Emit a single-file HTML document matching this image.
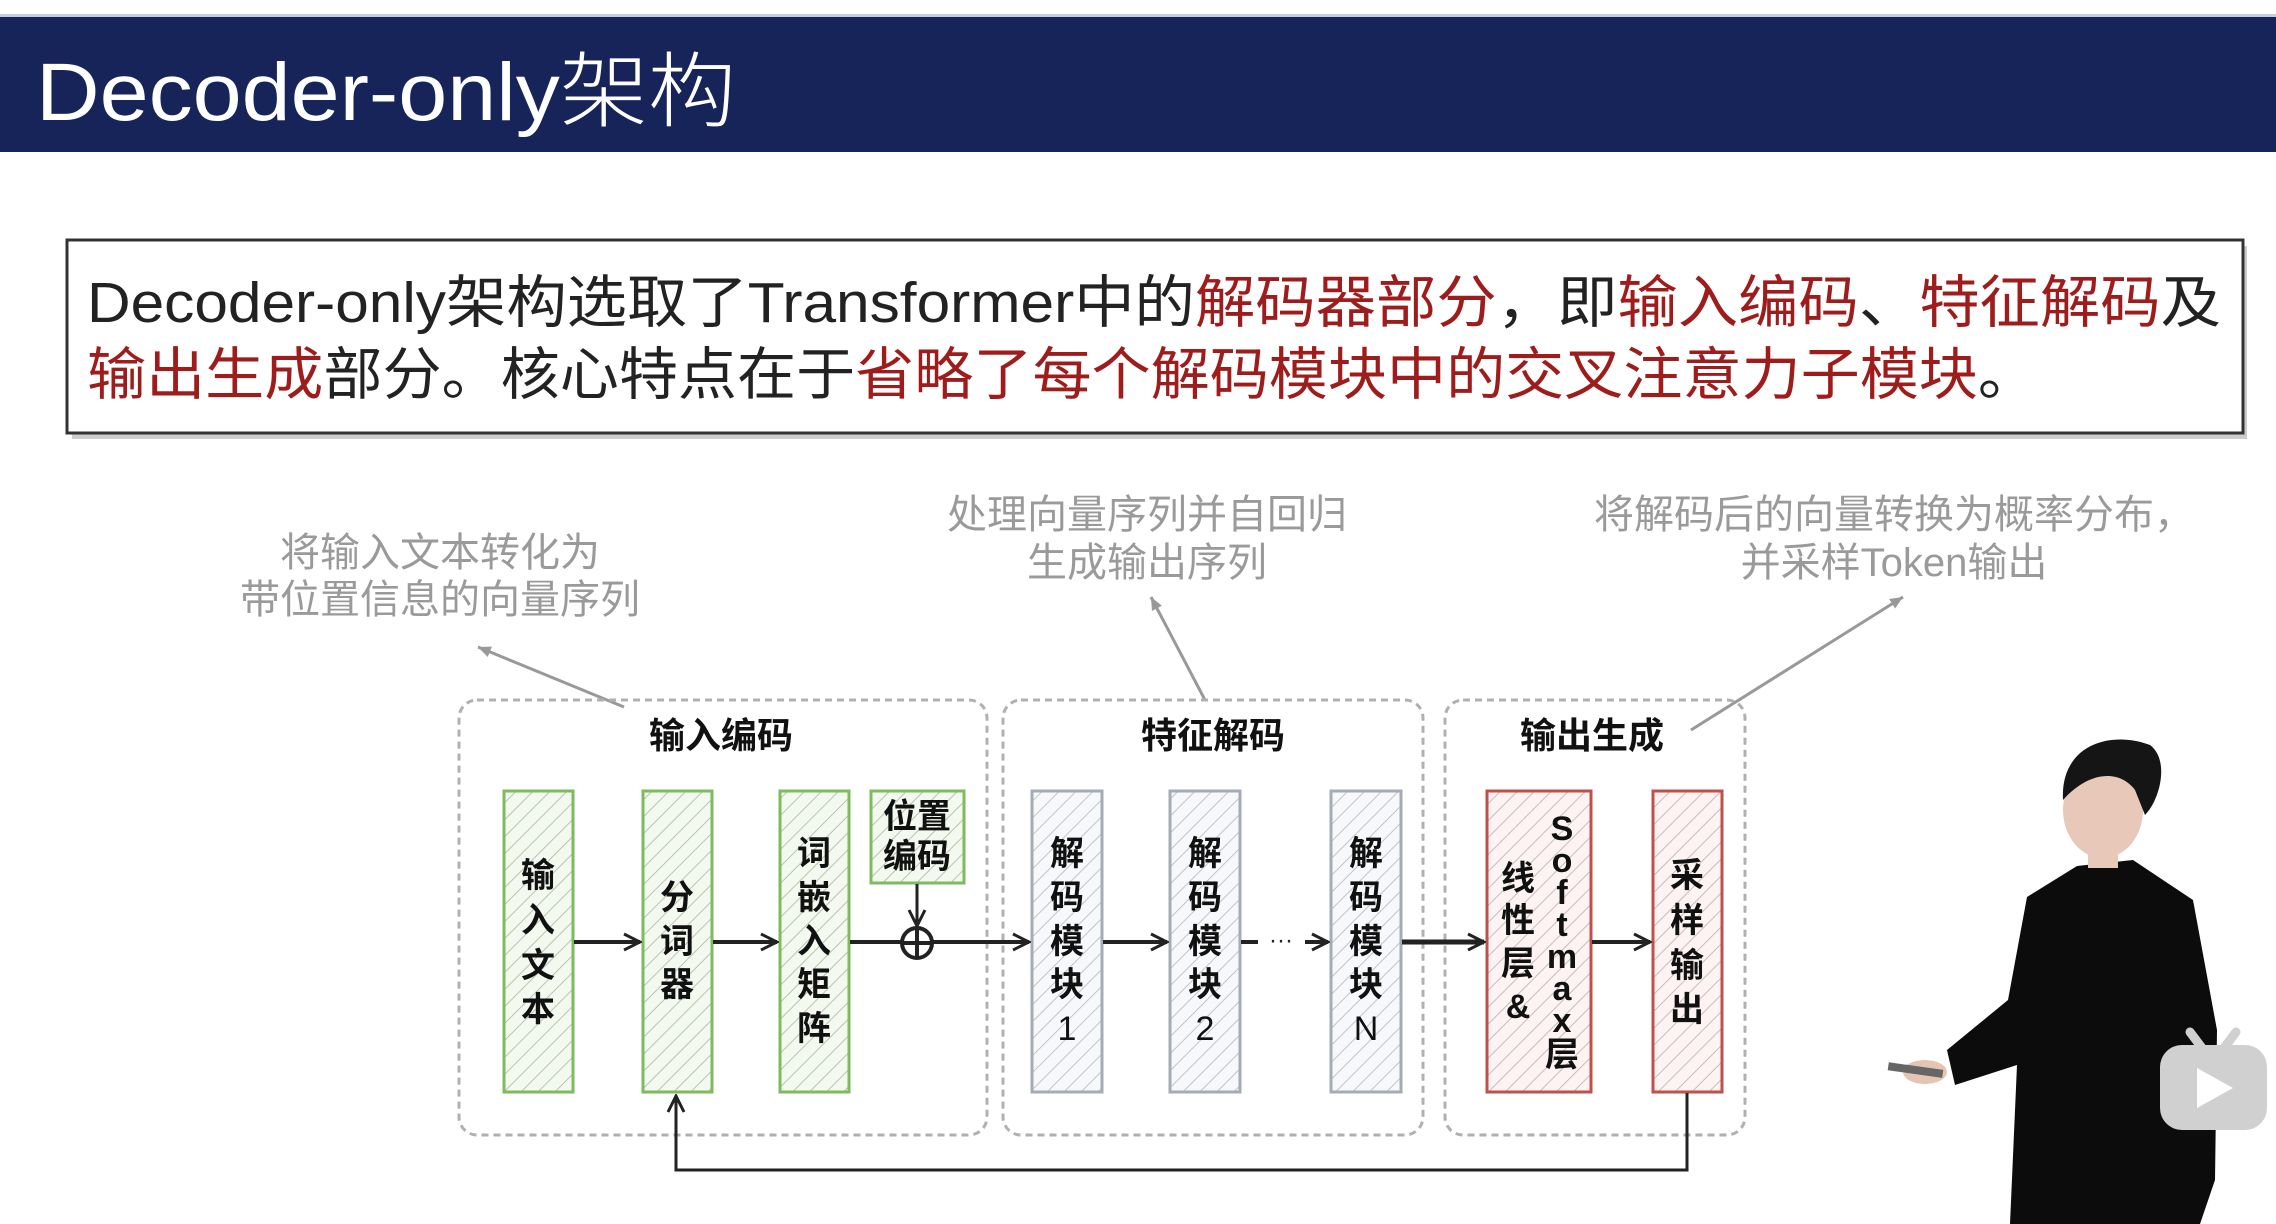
<!DOCTYPE html>
<html><head><meta charset="utf-8"><style>
html,body{margin:0;padding:0;background:#fff;}
body{width:2276px;height:1224px;overflow:hidden;position:relative;font-family:"Liberation Sans","Noto Sans CJK SC",sans-serif;}
</style></head><body>
<svg width="2276" height="1224" viewBox="0 0 2276 1224" xmlns="http://www.w3.org/2000/svg" style="position:absolute;left:0;top:0">
<defs>
<pattern id="hg" width="12" height="12" patternUnits="userSpaceOnUse" patternTransform="rotate(45)"><rect width="12" height="12" fill="#f3f9ef"/><line x1="0" y1="0" x2="0" y2="12" stroke="#b8c4b0" stroke-width="2"/></pattern>
<pattern id="hb" width="12" height="12" patternUnits="userSpaceOnUse" patternTransform="rotate(45)"><rect width="12" height="12" fill="#f6f8fb"/><line x1="0" y1="0" x2="0" y2="12" stroke="#c0c4c8" stroke-width="2"/></pattern>
<pattern id="hr" width="12" height="12" patternUnits="userSpaceOnUse" patternTransform="rotate(45)"><rect width="12" height="12" fill="#fdf3f2"/><line x1="0" y1="0" x2="0" y2="12" stroke="#c8bcbc" stroke-width="2"/></pattern>
<marker id="ah" viewBox="0 0 20 20" refX="18" refY="10" markerWidth="20" markerHeight="20" markerUnits="userSpaceOnUse" orient="auto"><path d="M2,2 L18,10 L2,18" fill="none" stroke="#222" stroke-width="3"/></marker>
<marker id="ag" viewBox="0 0 20 20" refX="18" refY="10" markerWidth="16" markerHeight="16" markerUnits="userSpaceOnUse" orient="auto"><path d="M2,3 L18,10 L2,17 Z" fill="#999"/></marker>
</defs>
<rect x="0" y="14" width="2276" height="4" fill="#c8cce0"/>
<rect x="0" y="17" width="2276" height="135" fill="#17245a"/>
<text x="36" y="120" font-size="82" fill="#fff" font-weight="300" textLength="700" lengthAdjust="spacingAndGlyphs">Decoder-only架构</text>
<rect x="72" y="246" width="2175" height="193" fill="#999" opacity="0.5"/>
<rect x="67" y="240" width="2176" height="193" fill="#fff" stroke="#333" stroke-width="3"/>
<text x="87" y="322" font-size="57" fill="#222" textLength="2134" lengthAdjust="spacingAndGlyphs">Decoder-only架构选取了Transformer中的<tspan fill="#9e1c1c">解码器部分</tspan>，即<tspan fill="#9e1c1c">输入编码</tspan>、<tspan fill="#9e1c1c">特征解码</tspan>及</text>
<text x="87" y="394" font-size="57" fill="#222" textLength="1950" lengthAdjust="spacingAndGlyphs"><tspan fill="#9e1c1c">输出生成</tspan>部分。核心特点在于<tspan fill="#9e1c1c">省略了每个解码模块中的交叉注意力子模块</tspan>。</text>
<g font-size="40" fill="#9a9a9a" text-anchor="middle">
<text x="440" y="566">将输入文本转化为</text>
<text x="440" y="613">带位置信息的向量序列</text>
<text x="1147" y="528">处理向量序列并自回归</text>
<text x="1147" y="576">生成输出序列</text>
<text x="1894" y="528">将解码后的向量转换为概率分布，</text>
<text x="1894" y="576">并采样Token输出</text>
</g>
<g stroke="#999" stroke-width="3" fill="none">
<line x1="624" y1="707" x2="478" y2="647" marker-end="url(#ag)"/>
<line x1="1205" y1="700" x2="1151" y2="597" marker-end="url(#ag)"/>
<line x1="1691" y1="730" x2="1903" y2="597" marker-end="url(#ag)"/>
</g>
<g fill="none" stroke="#b0b0b0" stroke-width="3" stroke-dasharray="7,5">
<rect x="459" y="700" width="528" height="435" rx="18"/>
<rect x="1003" y="700" width="420" height="435" rx="18"/>
<rect x="1445" y="700" width="300" height="435" rx="18"/>
</g>
<g font-size="36" font-weight="bold" fill="#111" text-anchor="middle">
<text x="721" y="748">输入编码</text>
<text x="1213" y="748">特征解码</text>
<text x="1592" y="748">输出生成</text>
</g>
<g stroke-width="3">
<rect x="504" y="791" width="69" height="301" fill="url(#hg)" stroke="#7dbb5c"/>
<rect x="643" y="791" width="69" height="301" fill="url(#hg)" stroke="#7dbb5c"/>
<rect x="780" y="791" width="69" height="301" fill="url(#hg)" stroke="#7dbb5c"/>
<rect x="871" y="791" width="93" height="92" fill="url(#hg)" stroke="#7dbb5c"/>
<rect x="1032" y="791" width="70" height="301" fill="url(#hb)" stroke="#a6acb6"/>
<rect x="1170" y="791" width="70" height="301" fill="url(#hb)" stroke="#a6acb6"/>
<rect x="1331" y="791" width="70" height="301" fill="url(#hb)" stroke="#a6acb6"/>
<rect x="1487" y="791" width="104" height="301" fill="url(#hr)" stroke="#c0504a"/>
<rect x="1653" y="791" width="69" height="301" fill="url(#hr)" stroke="#c0504a"/>
</g>
<g font-size="34" font-weight="bold" fill="#111" text-anchor="middle">
<text x="538" y="887">输</text><text x="538" y="932">入</text><text x="538" y="977">文</text><text x="538" y="1021">本</text>
<text x="677" y="909">分</text><text x="677" y="953">词</text><text x="677" y="996">器</text>
<text x="814" y="865">词</text><text x="814" y="909">嵌</text><text x="814" y="953">入</text><text x="814" y="996">矩</text><text x="814" y="1040">阵</text>
<text x="917" y="828">位置</text><text x="917" y="868">编码</text>
<text x="1067" y="865">解</text><text x="1067" y="909">码</text><text x="1067" y="953">模</text><text x="1067" y="996">块</text><text x="1067" y="1040" font-weight="normal">1</text>
<text x="1205" y="865">解</text><text x="1205" y="909">码</text><text x="1205" y="953">模</text><text x="1205" y="996">块</text><text x="1205" y="1040" font-weight="normal">2</text>
<text x="1366" y="865">解</text><text x="1366" y="909">码</text><text x="1366" y="953">模</text><text x="1366" y="996">块</text><text x="1366" y="1040" font-weight="normal">N</text>
<text x="1518" y="890">线</text><text x="1518" y="932">性</text><text x="1518" y="975">层</text><text x="1518" y="1018">&amp;</text>
<text x="1562" y="840">S</text><text x="1562" y="872">o</text><text x="1562" y="904">f</text><text x="1562" y="936">t</text><text x="1562" y="968">m</text><text x="1562" y="1000">a</text><text x="1562" y="1032">x</text><text x="1562" y="1066">层</text>
<text x="1687" y="887">采</text><text x="1687" y="932">样</text><text x="1687" y="977">输</text><text x="1687" y="1021">出</text>
</g>
<g stroke="#222" stroke-width="4" fill="none">
<line x1="574" y1="942" x2="640" y2="942" marker-end="url(#ah)"/>
<line x1="713" y1="942" x2="777" y2="942" marker-end="url(#ah)"/>
<line x1="850" y1="942" x2="1029" y2="942" marker-end="url(#ah)"/>
<circle cx="917" cy="943" r="15" fill="#fff"/>
<line x1="902" y1="943" x2="932" y2="943"/><line x1="917" y1="928" x2="917" y2="958"/>
<line x1="917" y1="884" x2="917" y2="926" stroke-width="3" marker-end="url(#ah)"/>
<line x1="1103" y1="942" x2="1167" y2="942" marker-end="url(#ah)"/>
<line x1="1241" y1="942" x2="1258" y2="942"/>
<line x1="1305" y1="942" x2="1328" y2="942" marker-end="url(#ah)"/>
<line x1="1402" y1="942" x2="1484" y2="942" stroke-width="5" marker-end="url(#ah)"/>
<line x1="1592" y1="942" x2="1650" y2="942" marker-end="url(#ah)"/>
<polyline points="1687,1093 1687,1170 676,1170 676,1096" stroke-width="3" marker-end="url(#ah)"/>
</g>
<text x="1281" y="948" font-size="24" fill="#222" text-anchor="middle">···</text>
<path d="M2027,897 L2077,866 L2133,860 L2193,900 L2217,1030 L2215,1180 L2200,1224 L2010,1224 L2017,1065 L1955,1085 L1947,1050 L2008,1000 Z" fill="#0c0c0c"/>
<ellipse cx="2103" cy="810" rx="40" ry="48" fill="#e8c8b8"/>
<path d="M2063,800 C2060,745 2110,730 2150,745 C2170,760 2160,800 2145,815 L2135,790 C2120,770 2090,770 2063,800 Z" fill="#151515"/>
<rect x="2088" y="840" width="30" height="28" fill="#e8c8b8"/>
<ellipse cx="1925" cy="1072" rx="22" ry="12" fill="#e6c4b4"/>
<rect x="1888" y="1066" width="55" height="8" fill="#666" transform="rotate(8 1915 1070)"/>
<rect x="2160" y="1045" width="107" height="85" rx="22" fill="#d0d0d0"/>
<line x1="2190" y1="1032" x2="2202" y2="1048" stroke="#d0d0d0" stroke-width="9" stroke-linecap="round"/>
<line x1="2236" y1="1032" x2="2224" y2="1048" stroke="#d0d0d0" stroke-width="9" stroke-linecap="round"/>
<path d="M2197,1068 L2233,1088 L2197,1108 Z" fill="#fff"/>
</svg>
</body></html>
